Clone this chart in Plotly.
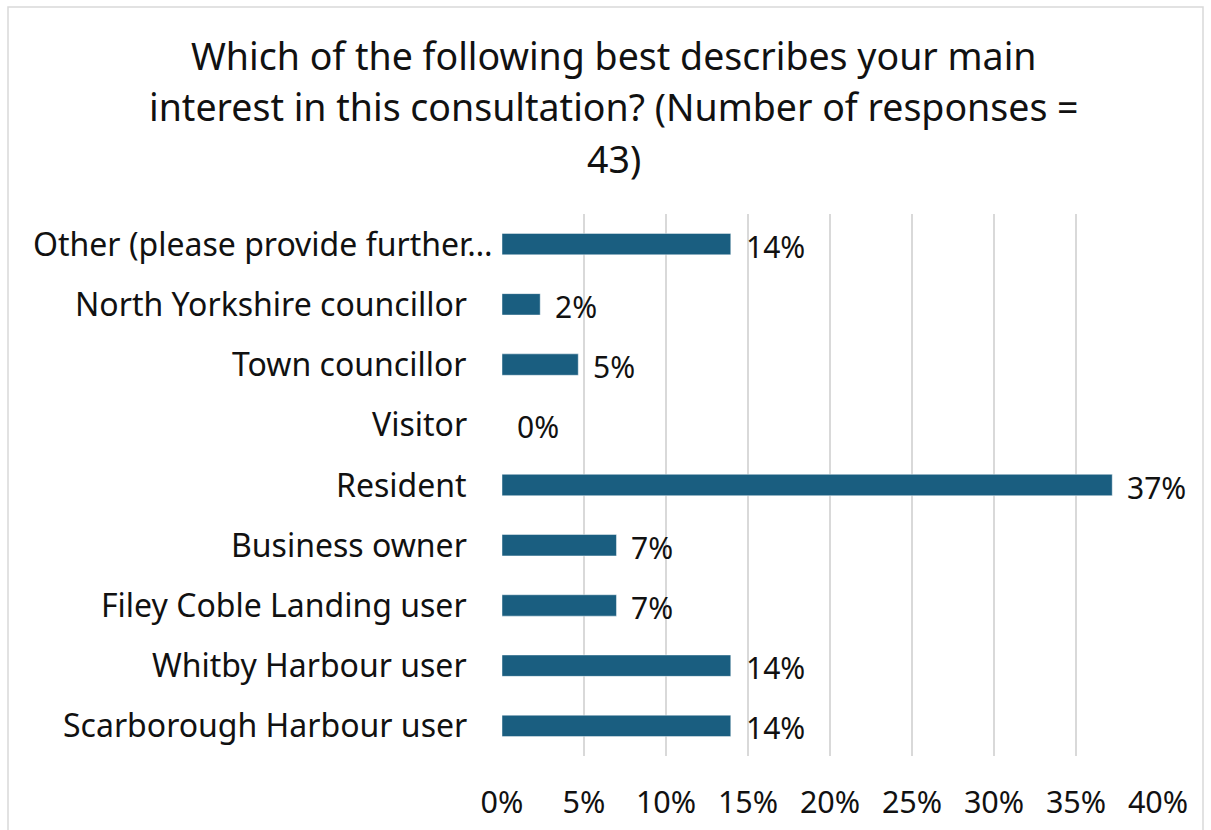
import plotly.graph_objects as go

# Survey responses, top to bottom as displayed
categories = [
    "Other (please provide further…",
    "North Yorkshire councillor",
    "Town councillor",
    "Visitor",
    "Resident",
    "Business owner",
    "Filey Coble Landing user",
    "Whitby Harbour user",
    "Scarborough Harbour user",
]
share_pct = [13.95, 2.33, 4.65, 0.0, 37.21, 6.98, 6.98, 13.95, 13.95]
x_ticks = [0, 5, 10, 15, 20, 25, 30, 35, 40]
x_tick_labels = ["0%", "5%", "10%", "15%", "20%", "25%", "30%", "35%", "40%"]

title_lines = [
    "Which of the following best describes your main",
    "interest in this consultation? (Number of responses =",
    "43)",
]

W, H = 1211, 830
L, R, T, B = 502, 53, 214, 74
pw, ph = W - L - R, H - T - B

FONT = "Noto Sans"
INK = "#111111"
BAR = "#1a5e80"

fig = go.Figure(
    go.Bar(
        y=categories,
        x=share_pct,
        orientation="h",
        marker=dict(color=BAR, line=dict(color="rgba(255,255,255,0.45)", width=1)),
        width=0.355,
        hoverinfo="skip",
    )
)

# category labels left of the axis; the truncated first label runs
# closer to the plot, as the source layout does
for i, cat in enumerate(categories):
    fig.add_annotation(
        x=0, y=cat, xref="x", yref="y",
        text=cat, showarrow=False,
        xanchor="right", yanchor="middle",
        xshift=-8 if cat.endswith("…") else -33, yshift=1,
        font=dict(family=FONT, size=32, color=INK),
    )

# value labels to the right of each bar
for cat, v in zip(categories, share_pct):
    fig.add_annotation(
        x=v, y=cat, xref="x", yref="y",
        text=f"{round(v)}%", showarrow=False,
        xanchor="left", yanchor="middle", xshift=13, yshift=-2,
        font=dict(family=FONT, size=30, color=INK),
    )

# chart title, one annotation per line
for i, line in enumerate(title_lines):
    fig.add_annotation(
        x=(W / 2 + 8 - L) / pw, y=(H - B - (56 + 51 * i)) / ph,
        xref="paper", yref="paper", text=line, showarrow=False,
        xanchor="center", yanchor="middle",
        font=dict(family=FONT, size=37.5, color=INK),
    )

# outer chart border
fig.add_shape(
    type="rect", xref="paper", yref="paper",
    x0=(8 - L) / pw, x1=(1203 - L) / pw,
    y0=(H - B - 880) / ph, y1=(H - B - 7) / ph,
    line=dict(color="#d9d9d9", width=1.5), fillcolor="rgba(0,0,0,0)", layer="below",
)

fig.update_layout(
    width=W, height=H,
    margin=dict(l=L, r=R, t=T, b=B, pad=0, autoexpand=False),
    paper_bgcolor="white", plot_bgcolor="white",
    showlegend=False,
    font=dict(family=FONT, color=INK),
    xaxis=dict(
        range=[0, 40], tickvals=x_ticks, ticktext=x_tick_labels,
        showgrid=True, gridcolor="#d9d9d9", gridwidth=1.5,
        zeroline=False, showline=False, ticks="",
        tickfont=dict(family=FONT, size=30.5, color=INK),
        ticklabelstandoff=25, automargin=False,
        fixedrange=True,
    ),
    yaxis=dict(
        autorange="reversed", showgrid=False, zeroline=False, showline=False,
        ticks="", showticklabels=False, automargin=False,
        fixedrange=True,
    ),
)

fig.write_html("out.html")
